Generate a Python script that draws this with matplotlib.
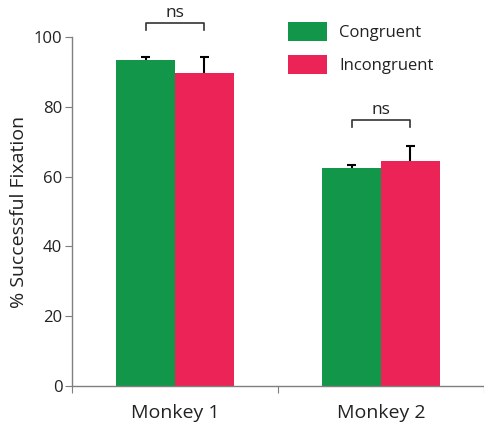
import matplotlib.pyplot as plt
import numpy as np

plt.rcParams['font.family'] = ['Open Sans', 'DejaVu Sans']

groups = ['Monkey 1', 'Monkey 2']
conditions = ['Congruent', 'Incongruent']
congruent = [93.4, 62.4]
congruent_err = [0.9, 0.9]
incongruent = [89.8, 64.5]
incongruent_err = [4.4, 4.4]
sig_labels = ['ns', 'ns']

green = '#12964a'
red = '#ec2356'
axis_grey = '#7f7f7f'


def upper_err(ax, xs, ys, errs, cap=0.022):
    # only the upper whisker with a cap, like a one-sided SEM bar
    for xi, yi, e in zip(xs, ys, errs):
        ax.plot([xi, xi], [yi, yi + e], color='black', lw=1.5,
                solid_capstyle='butt', zorder=3)
        ax.plot([xi - cap, xi + cap], [yi + e, yi + e], color='black',
                lw=1.5, solid_capstyle='butt', zorder=3)


def main():
    fig = plt.figure(figsize=(4.84, 4.3), dpi=100)
    ax = fig.add_axes([72 / 484, 1 - 386 / 430, 412 / 484, 349 / 430])

    x = np.array([0.5, 1.5])
    w = 0.285
    ax.bar(x - w / 2, congruent, w, color=green, label=conditions[0])
    ax.bar(x + w / 2, incongruent, w, color=red, label=conditions[1])
    upper_err(ax, x - w / 2, congruent, congruent_err)
    upper_err(ax, x + w / 2, incongruent, incongruent_err)

    # significance brackets above each pair
    for xi, top, lab in zip(x, [102.0, 74.2], sig_labels):
        h = 2.0
        ax.plot([xi - w / 2, xi - w / 2, xi + w / 2, xi + w / 2],
                [top, top + h, top + h, top], color='#333333', lw=1.2,
                clip_on=False)
        ax.text(xi, top + h + 0.5, lab, ha='center', va='bottom',
                fontsize=12.5, color='#222222', clip_on=False)

    ax.set_xlim(0, 1.99)
    ax.set_ylim(0, 100)
    ax.set_yticks([0, 20, 40, 60, 80, 100])
    ax.set_xticks([0, 1, 2])
    ax.set_xticklabels([])
    ax.set_xticks(x, minor=True)
    ax.set_xticklabels(groups, minor=True, fontsize=14, color='#222222')
    ax.tick_params(axis='x', which='minor', length=0, pad=13)
    ax.tick_params(axis='x', which='major', length=5, color=axis_grey)
    ax.tick_params(axis='y', length=5, color=axis_grey, labelsize=12,
                   labelcolor='#222222', pad=2)
    for s in ['top', 'right']:
        ax.spines[s].set_visible(False)
    for s in ['left', 'bottom']:
        ax.spines[s].set_color(axis_grey)
        ax.spines[s].set_linewidth(1.0)
    ax.set_ylabel('% Successful Fixation', fontsize=14, color='#222222',
                  labelpad=4)

    leg = ax.legend(loc='upper left', bbox_to_anchor=(0.489, 1.086),
                    frameon=False, fontsize=12, handlelength=2.33,
                    handleheight=1.4, labelspacing=0.84, handletextpad=0.7)
    for t in leg.get_texts():
        t.set_color('#222222')

    fig.savefig('out.png', dpi=100)


if __name__ == '__main__':
    main()
